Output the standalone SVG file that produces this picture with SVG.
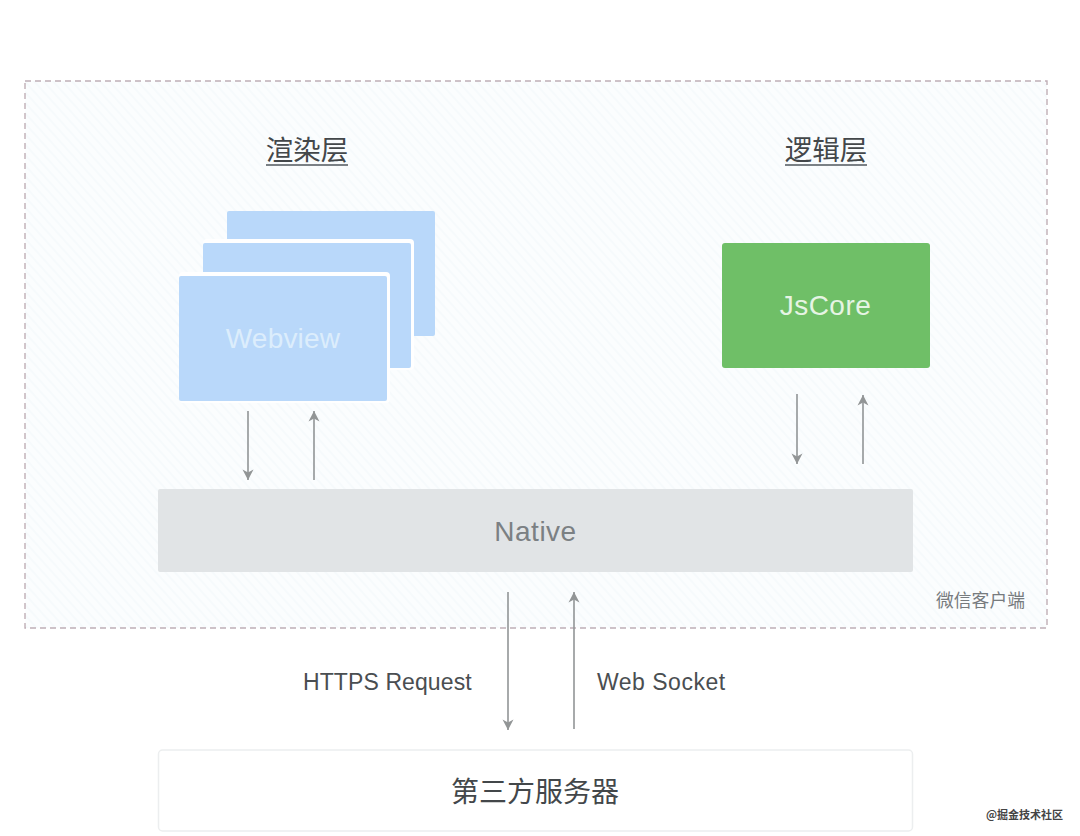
<svg xmlns="http://www.w3.org/2000/svg" width="1080" height="836" viewBox="0 0 1080 836">
<style>
text{font-family:"Noto Sans CJK SC","Liberation Sans",sans-serif}
.lat{font-family:"Liberation Sans","Noto Sans CJK SC",sans-serif}
.ln{stroke:#929596;stroke-width:1.6;fill:none;marker-end:url(#ah)}
.wv{fill:#b9d8fa}
.edge{fill:#fff}
.ttl{font-size:27.500px;fill:#43474a;text-anchor:middle}
.ul{stroke:#7a8085;stroke-width:2;fill:none}
</style>
<defs>
<pattern id="hatch" width="7" height="7" patternUnits="userSpaceOnUse" patternTransform="rotate(48)">
<rect width="7" height="7" fill="#fbfdfe"/>
<rect width="7" height="2" fill="#f6fafc"/>
</pattern>
<marker id="ah" markerWidth="14" markerHeight="14" refX="12" refY="7" orient="auto" markerUnits="userSpaceOnUse">
<path d="M1.500 1.500L12 7L1.500 12.500L4.500 7Z" fill="#929596"/>
</marker>
</defs>
<rect width="1080" height="836" fill="#fff"/>
<g id="client">
<rect x="25" y="81" width="1022" height="547" fill="url(#hatch)" stroke="#bfaeb6" stroke-width="1.400" stroke-dasharray="6 4"/>
<text x="980.500" y="607" font-size="17.800" fill="#777b7e" text-anchor="middle">微信客户端</text>
</g>
<g id="render-title">
<text x="307" y="160" class="ttl">渲染层</text>
<path class="ul" d="M266 165H348"/>
</g>
<g id="logic-title">
<text x="826" y="160" class="ttl">逻辑层</text>
<path class="ul" d="M785 165H867"/>
</g>
<g id="webview-back"><rect x="227" y="211" width="208" height="125" rx="2" class="wv"/></g>
<g id="webview-mid">
<rect x="203" y="239" width="211" height="131" rx="4" class="edge"/>
<rect x="203" y="243" width="208" height="125" rx="2" class="wv"/>
</g>
<g id="webview-front">
<rect x="179" y="272" width="211" height="131" rx="4" class="edge"/>
<rect x="179" y="276" width="208" height="125" rx="2" class="wv"/>
<text x="283" y="348" class="lat" font-size="28" letter-spacing="0.200" fill="#dcedfc" text-anchor="middle">Webview</text>
</g>
<g id="jscore">
<rect x="722" y="243" width="208" height="125" rx="3" fill="#6fbf67"/>
<text x="825.500" y="315" class="lat" font-size="28" letter-spacing="0.500" fill="#e6f4e4" text-anchor="middle">JsCore</text>
</g>
<g id="native">
<rect x="158" y="489" width="755" height="83" rx="2" fill="#e1e4e6"/>
<text x="535.500" y="541" class="lat" font-size="28" letter-spacing="0.500" fill="#7b8083" text-anchor="middle">Native</text>
</g>
<g id="server">
<rect x="158.500" y="750" width="754" height="81" rx="4" fill="#fff" stroke="#eceeef" stroke-width="1.500"/>
<text x="535" y="802" font-size="28" fill="#43474a" text-anchor="middle">第三方服务器</text>
</g>
<g id="connectors">
<line x1="248" y1="411" x2="248" y2="480" class="ln"/>
<line x1="314" y1="480" x2="314" y2="411" class="ln"/>
<line x1="797" y1="394" x2="797" y2="464" class="ln"/>
<line x1="863" y1="464" x2="863" y2="395" class="ln"/>
<line x1="508" y1="592" x2="508" y2="730" class="ln"/>
<line x1="574" y1="729" x2="574" y2="592" class="ln"/>
</g>
<g id="connector-labels" class="lat" font-size="23" fill="#4a4e51">
<text x="303" y="690" class="lat" letter-spacing="0.100">HTTPS Request</text>
<text x="597" y="690" class="lat" letter-spacing="0.500">Web Socket</text>
</g>
<g id="watermark">
<text x="1063" y="819" font-size="11" font-weight="700" fill="#444" text-anchor="end">@掘金技术社区</text>
</g>
</svg>
